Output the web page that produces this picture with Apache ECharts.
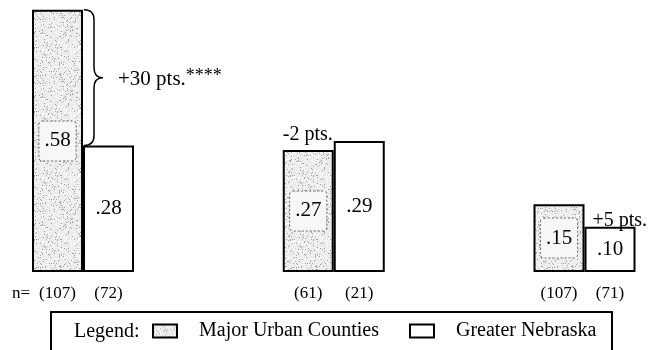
<!DOCTYPE html>
<html>
<head>
<meta charset="utf-8">
<script src="https://cdn.jsdelivr.net/npm/echarts@6/dist/echarts.min.js"></script>
<style>
  html, body { margin: 0; padding: 0; background: #fff; }
  #chart { width: 648px; height: 350px; }
</style>
</head>
<body>
<div id="chart"></div>
<script>
// Shares for the two county groups in three comparisons
const seriesNames = ['Major Urban Counties', 'Greater Nebraska'];
const urbanValues = [0.58, 0.27, 0.15];
const greaterValues = [0.28, 0.29, 0.10];
const urbanN = [107, 61, 107];
const greaterN = [72, 21, 71];
const pointDiffs = [30, -2, 5];
const significance = ['****', '', ''];
const categories = urbanN.map((n, i) => 'g' + (i + 1));

const FONT = '"Liberation Serif", "Times New Roman", serif';
const BAR_W = 51;

// Stippled grey fill, built from a seeded generator so it is stable
function makeStipple() {
  const c = document.createElement('canvas');
  c.width = 64; c.height = 64;
  const ctx = c.getContext('2d');
  ctx.fillStyle = '#ebebeb';
  ctx.fillRect(0, 0, 64, 64);
  let s = 12345;
  const rnd = () => { s = (s * 1103515245 + 12345) % 2147483648; return s / 2147483648; };
  for (let y = 0; y < 64; y++) {
    for (let x = 0; x < 64; x++) {
      const r = rnd();
      if (r < 0.09) { ctx.fillStyle = '#a4a4a4'; ctx.fillRect(x, y, 1, 1); }
      else if (r < 0.32) { ctx.fillStyle = '#f9f9f9'; ctx.fillRect(x, y, 1, 1); }
    }
  }
  return c;
}
const stipple = makeStipple();

const fmtVal = v => v.toFixed(2).replace(/^0/, '');

const chart = echarts.init(document.getElementById('chart'), null, { renderer: 'canvas' });

chart.setOption({
  animation: false,
  backgroundColor: '#fff',
  textStyle: { fontFamily: FONT, color: '#000' },
  // category ticks sit on the group centres; the bars straddle them
  grid: { left: 83, right: 63.5, top: 0.8, bottom: 78, containLabel: false },
  xAxis: {
    type: 'category',
    data: categories,
    boundaryGap: false,
    axisLine: { show: false },
    axisTick: { show: false },
    splitLine: { show: false },
    axisLabel: {
      margin: 13,
      interval: 0,
      formatter: (val, i) => `{a|(${urbanN[i]})}{b|(${greaterN[i]})}`,
      rich: {
        a: { width: BAR_W, align: 'center', fontSize: 17, fontFamily: FONT, color: '#000' },
        b: { width: BAR_W, align: 'center', fontSize: 17, fontFamily: FONT, color: '#000' }
      }
    }
  },
  yAxis: { type: 'value', min: 0, max: 0.6, show: false, splitLine: { show: false } },
  legend: {
    data: seriesNames,
    left: 152,
    top: 321,
    padding: 0,
    itemWidth: 24,
    itemHeight: 13,
    itemGap: 30,
    icon: 'rect',
    itemStyle: { borderColor: '#000', borderWidth: 2 },
    textStyle: { fontFamily: FONT, fontSize: 20, color: '#000', padding: [0, 0, 0, 17] }
  },
  graphic: [
    { type: 'rect', shape: { x: 51, y: 312, width: 561, height: 50 },
      style: { fill: 'none', stroke: '#000', lineWidth: 2 }, silent: true },
    { type: 'text', x: 74, y: 332,
      style: { text: 'Legend:', font: '20px ' + FONT, fill: '#000', verticalAlign: 'middle' } },
    { type: 'text', x: 12, y: 294,
      style: { text: 'n=', font: '17px ' + FONT, fill: '#000', verticalAlign: 'middle' } }
  ],
  series: [
    {
      name: seriesNames[0],
      type: 'bar',
      clip: false,
      data: urbanValues,
      barWidth: BAR_W,
      barGap: '0%',
      itemStyle: { color: { image: stipple, repeat: 'repeat' }, borderColor: '#000', borderWidth: 2 },
      label: {
        show: true,
        position: 'inside',
        formatter: p => fmtVal(p.value),
        fontFamily: FONT,
        fontSize: 21,
        color: '#000',
        textBorderWidth: 0,
        backgroundColor: '#f7f7f7',
        borderColor: '#666',
        borderWidth: 1,
        borderType: 'dotted',
        borderRadius: 3,
        padding: [9, 5, 9, 5]
      }
    },
    {
      name: seriesNames[1],
      type: 'bar',
      clip: false,
      data: greaterValues,
      barWidth: BAR_W,
      barGap: '0%',
      itemStyle: { color: '#fff', borderColor: '#000', borderWidth: 2 },
      label: {
        show: true,
        position: 'inside',
        formatter: p => fmtVal(p.value),
        fontFamily: FONT,
        fontSize: 21,
        color: '#000',
        textBorderWidth: 0
      }
    },
    {
      // difference annotations: brace for the first group, plain notes elsewhere
      type: 'custom',
      silent: true,
      clip: false,
      z: 10,
      data: urbanValues.map((v, i) => [i, v]),
      renderItem: (params, api) => {
        const i = params.dataIndex;
        const d = pointDiffs[i];
        const text = (d > 0 ? '+' : '') + d + ' pts.';
        const xc = api.coord([i, 0])[0];
        const yU = api.coord([i, urbanValues[i]])[1];
        const yG = api.coord([i, greaterValues[i]])[1];
        const font = '20px ' + FONT;
        if (significance[i]) {
          const yT = Math.min(yU, yG), yB = Math.max(yU, yG), yM = (yT + yB) / 2;
          const x0 = xc + 1, x1 = xc + 11, x2 = xc + 20, r = 10;
          const path = `M${x0},${yT} Q${x1},${yT} ${x1},${yT + r} L${x1},${yM - r} ` +
            `Q${x1},${yM} ${x2},${yM} Q${x1},${yM} ${x1},${yM + r} L${x1},${yB - r} ` +
            `Q${x1},${yB} ${x0},${yB}`;
          return {
            type: 'group',
            children: [
              { type: 'path', shape: { pathData: path },
                style: { fill: 'none', stroke: '#000', lineWidth: 1.5 } },
              { type: 'text',
                style: {
                  x: xc + 35, y: yM + 2,
                  text: `{a|${text}}{s|${significance[i]}}`,
                  verticalAlign: 'middle',
                  rich: {
                    a: { font: '21px ' + FONT, fill: '#000' },
                    s: { font: '18px ' + FONT, fill: '#000', verticalAlign: 'top', padding: [0, 0, 7, 0] }
                  }
                } }
            ]
          };
        }
        const yTop = Math.min(yU, yG);
        const x = d < 0 ? xc - BAR_W : xc + 8;
        const yText = d < 0 ? yTop + 4 : yG + 4;
        return {
          type: 'text',
          style: { x: x, y: yText, text: text, font: font, fill: '#000', align: 'left', verticalAlign: 'bottom' }
        };
      }
    }
  ]
});
</script>
</body>
</html>
